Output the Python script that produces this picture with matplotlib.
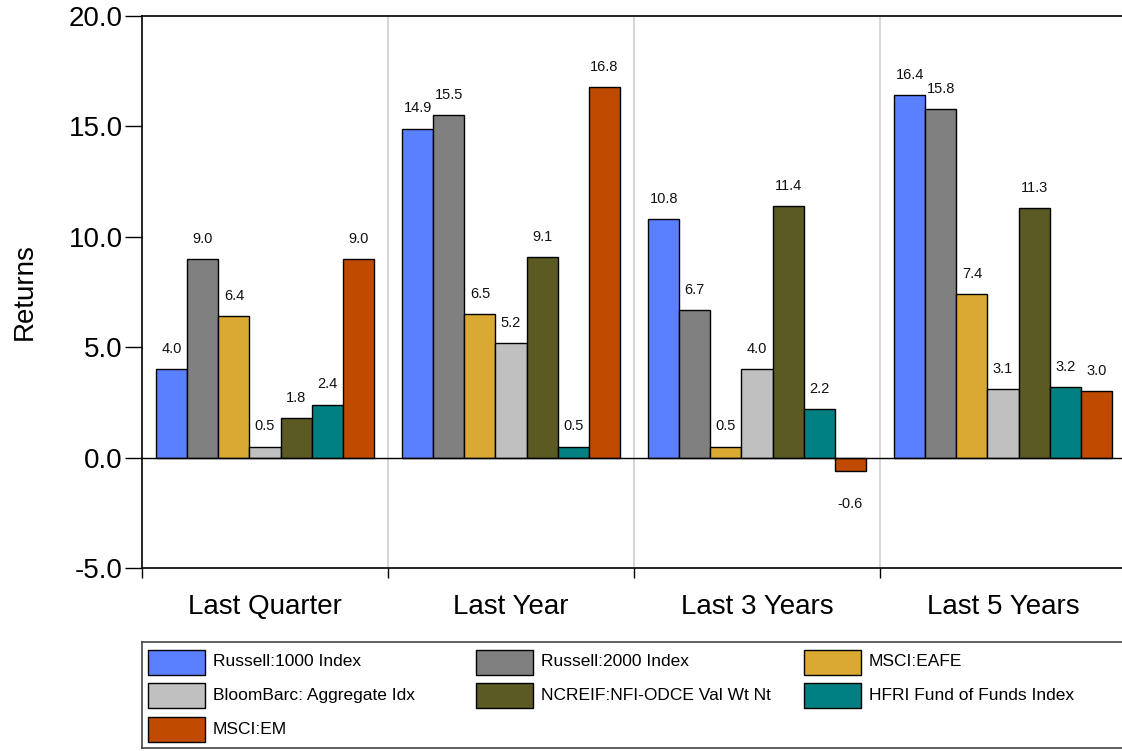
import matplotlib
matplotlib.use("Agg")
import matplotlib.pyplot as plt
from matplotlib.patches import Rectangle
import numpy as np

plt.rcParams['font.family'] = ['Liberation Sans', 'DejaVu Sans']

periods = ["Last Quarter", "Last Year", "Last 3 Years", "Last 5 Years"]
series_names = [
    "Russell:1000 Index",
    "Russell:2000 Index",
    "MSCI:EAFE",
    "BloomBarc: Aggregate Idx",
    "NCREIF:NFI-ODCE Val Wt Nt",
    "HFRI Fund of Funds Index",
    "MSCI:EM",
]
series_colors = ["#5A7FFF", "#808080", "#DAA932", "#C0C0C0", "#5A5A22", "#008080", "#C04A00"]

russell_1000 = [4.0, 14.9, 10.8, 16.4]
russell_2000 = [9.0, 15.5, 6.7, 15.8]
msci_eafe = [6.4, 6.5, 0.5, 7.4]
bloombarc_agg = [0.5, 5.2, 4.0, 3.1]
ncreif_odce = [1.8, 9.1, 11.4, 11.3]
hfri_fof = [2.4, 0.5, 2.2, 3.2]
msci_em = [9.0, 16.8, -0.6, 3.0]

series_values = [russell_1000, russell_2000, msci_eafe, bloombarc_agg,
                 ncreif_odce, hfri_fof, msci_em]

W, H = 1122, 751
fig = plt.figure(figsize=(W / 100, H / 100), dpi=100)

ax_l, ax_r, ax_t, ax_b = 142, 1126, 16, 568
ax = fig.add_axes([ax_l / W, 1 - ax_b / H, (ax_r - ax_l) / W, (ax_b - ax_t) / H])

n = len(series_names)
bar_w = 0.1265
for j, (name, vals, col) in enumerate(zip(series_names, series_values, series_colors)):
    xs = np.arange(len(periods)) + 0.5 + (j - (n - 1) / 2) * bar_w
    ax.bar(xs, vals, width=bar_w, color=col, edgecolor="black", linewidth=1.0, zorder=3)
    for x, v in zip(xs, vals):
        off = 14.5 if v >= 0 else -24
        ax.annotate(f"{v:.1f}", (x, v), xytext=(0, off), textcoords="offset points",
                    ha="center", va="center", fontsize=10.5, color="#111111")

ax.set_xlim(0, 4)
ax.set_ylim(-5, 20)
ax.set_yticks(np.arange(-5, 20.1, 5))
ax.set_yticklabels([f"{v:.1f}" for v in np.arange(-5, 20.1, 5)], fontsize=20)
ax.tick_params(axis="y", length=12, width=1, pad=2)

ax.set_xticks([0, 1, 2, 3])
ax.set_xticklabels([])
ax.tick_params(axis="x", which="major", length=7.5, width=1)
ax.set_xticks(np.arange(len(periods)) + 0.5, minor=True)
ax.set_xticklabels(periods, minor=True, fontsize=20)
ax.tick_params(axis="x", which="minor", length=0, pad=19)

for x in [1, 2, 3]:
    ax.axvline(x, color="#D0D0D0", linewidth=1.2, zorder=1)
ax.axhline(0, color="black", linewidth=1.0, zorder=4)

ax.spines["right"].set_visible(False)
for s in ["left", "top", "bottom"]:
    ax.spines[s].set_color("black")
    ax.spines[s].set_linewidth(1.2)

ax.set_ylabel("Returns", fontsize=20, labelpad=22)

# legend box laid out in pixel units
lg_t, lg_b = 642, 748
lax = fig.add_axes([ax_l / W, 1 - lg_b / H, (ax_r - ax_l) / W, (lg_b - lg_t) / H])
lax.set_xlim(0, ax_r - ax_l)
lax.set_ylim(lg_b - lg_t, 0)
lax.set_xticks([])
lax.set_yticks([])
for s in lax.spines.values():
    s.set_color("#444444")
    s.set_linewidth(1.2)
lax.spines["right"].set_visible(False)

for k, (name, col) in enumerate(zip(series_names, series_colors)):
    row, c = divmod(k, 3)
    px = 6 + c * 328
    py = 20 + row * 33.5
    lax.add_patch(Rectangle((px, py - 12.5), 57, 25, facecolor=col,
                            edgecolor="black", linewidth=1.0))
    lax.text(px + 65, py, name, fontsize=12.5, va="center", ha="left")

fig.savefig("out.png", dpi=100)
